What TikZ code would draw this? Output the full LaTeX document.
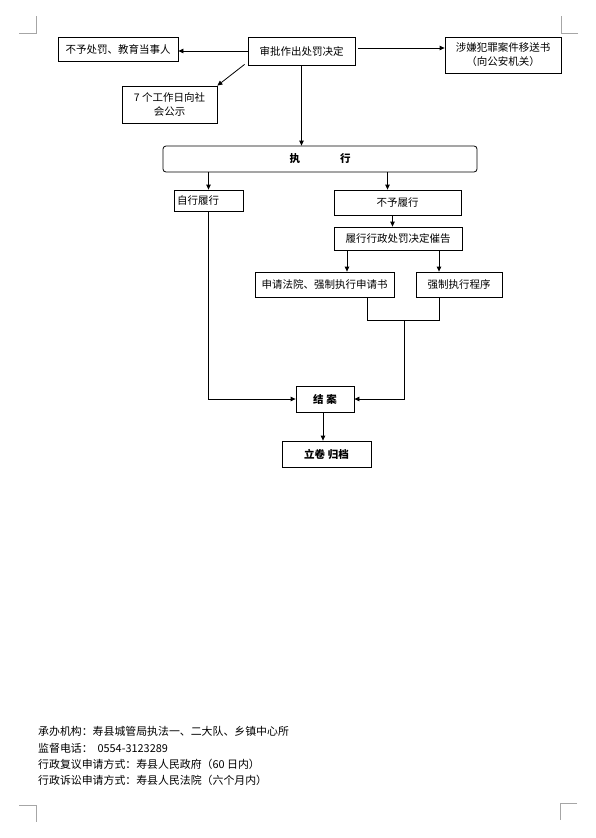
\documentclass[tikz,border=0pt]{standalone}
\usepackage{fontspec}
\setmainfont{Noto Sans CJK SC}
\usetikzlibrary{arrows.meta,calc}
\tikzset{
  box/.style={draw,line width=0.8pt,inner sep=0pt,align=center,font=\fontsize{10.5}{14}\selectfont},
  arr/.style={line width=0.8pt,-{Triangle[length=5pt,width=4.5pt]}},
  ln/.style={line width=0.8pt},
  crop/.style={draw=gray!70,line width=0.8pt},
  foot/.style={anchor=west,inner sep=0pt,font=\fontsize{10.9}{12}\selectfont}
}
\begin{document}
\begin{tikzpicture}[x=1pt,y=-1pt]
\fill[white] (0,0) rectangle (595,838);
\useasboundingbox (0,0) rectangle (595,838);
% crop marks
\draw[crop] (19,33) -- (36,33) -- (36,16);
\draw[crop] (578,33) -- (561,33) -- (561,16);
\draw[crop] (19,805) -- (36,805) -- (36,822);
\draw[crop] (577,803) -- (560,803) -- (560,820);
% nodes
\node[box,minimum width=107pt,minimum height=28pt] (n0) at (301.5,51) {审批作出处罚决定};
\node[box,minimum width=120pt,minimum height=24pt] (n1) at (118,49) {不予处罚、教育当事人};
\node[box,minimum width=116pt,minimum height=36pt] (n2) at (503,55) {涉嫌犯罪案件移送书\\（向公安机关）};
\node[box,minimum width=95pt,minimum height=37pt] (n3) at (169.5,104.5) {7 个工作日向社\\会公示};
\node[box,rounded corners=3pt,minimum width=314pt,minimum height=26pt,font=\fontsize{10.5}{14}\selectfont\bfseries] (ex) at (320,159) {执\hspace{40pt}行};
\node[box,minimum width=69pt,minimum height=21pt,text width=63pt,align=left] (zx) at (208.5,200.5) {自行履行};
\node[box,minimum width=127pt,minimum height=25pt] (by) at (397.5,202.5) {不予履行};
\node[box,minimum width=128pt,minimum height=23pt] (cg) at (398,238.5) {履行行政处罚决定催告};
\node[box,minimum width=139pt,minimum height=25pt] (sq) at (324.5,284.5) {申请法院、强制执行申请书};
\node[box,minimum width=86pt,minimum height=25pt] (qz) at (459,284.5) {强制执行程序};
\node[box,minimum width=58pt,minimum height=26pt,font=\fontsize{10.5}{14}\selectfont\bfseries] (ja) at (325,399) {结\hspace{3pt}案};
\node[box,minimum width=89pt,minimum height=26pt,font=\fontsize{10.5}{14}\selectfont\bfseries] (gd) at (326.5,454) {立卷\hspace{3pt}归档};
% connectors
\draw[arr] (n0.west) -- (n0.west -| n1.east);
\coordinate (r0) at ($(n0.east)+(3,-3)$);
\draw[arr] (r0) -- (r0 -| n2.west);
\draw[arr] ($(n0.south west)+(-3,-1)$) -- (n3.north east);
\draw[arr] (n0.south) -- (n0.south |- ex.north);
\draw[arr] (zx.north |- ex.south) -- (zx.north);
\draw[arr] ([xshift=-10pt]by.north |- ex.south) -- ([xshift=-10pt]by.north);
\draw[arr] ([xshift=-5pt]by.south) -- ([xshift=-5pt]by.south |- cg.north);
\draw[arr] ([xshift=-51pt]cg.south) -- ([xshift=-51pt]cg.south |- sq.north);
\draw[arr] ([xshift=41pt]cg.south) -- ([xshift=41pt]cg.south |- qz.north);
\coordinate (sqb) at ([xshift=42.5pt]sq.south);
\coordinate (qzb) at ([xshift=-20pt]qz.south);
\coordinate (m1) at ($(sqb)+(0,23)$);
\draw[ln] (sqb) -- (m1) -- (m1 -| qzb) -- (qzb);
\coordinate (m2) at ($(m1)+(37,0)$);
\draw[arr] (m2) -- (m2 |- ja.east) -- (ja.east);
\draw[arr] (zx.south) -- (zx.south |- ja.west) -- (ja.west);
\draw[arr] ([xshift=-2pt]ja.south) -- ([xshift=-2pt]ja.south |- gd.north);
% footer
\node[foot] (f1) at (38,731) {承办机构：寿县城管局执法一、二大队、乡镇中心所};
\node[foot] (f2) at (38,748) {监督电话：\ \ 0554-3123289};
\node[foot] (f3) at (38,764) {行政复议申请方式：寿县人民政府（60 日内）};
\node[foot] (f4) at (38,780) {行政诉讼申请方式：寿县人民法院（六个月内）};
\end{tikzpicture}
\end{document}
